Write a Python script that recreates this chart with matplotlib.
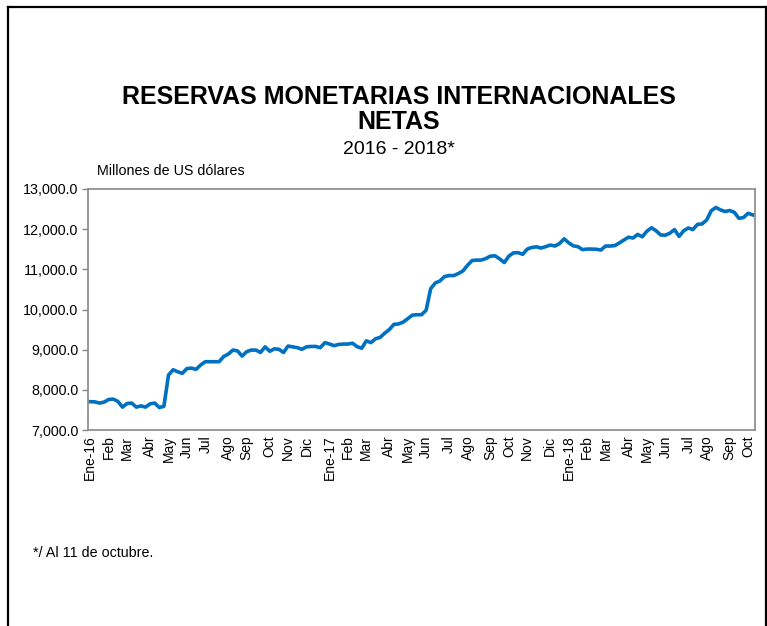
import matplotlib
matplotlib.use('Agg')
import matplotlib.pyplot as plt
from matplotlib.ticker import FuncFormatter
from matplotlib.lines import Line2D
import numpy as np

plt.rcParams['font.family'] = ['Liberation Sans', 'DejaVu Sans']

# Reservas semanales (millones de US$), ene-2016 a oct-2018
reservas = [
    7705, 7700, 7670, 7695, 7760, 7770, 7710, 7570, 7660, 7670,
    7570, 7600, 7570, 7650, 7670, 7560, 7590, 8370, 8500, 8450,
    8410, 8530, 8540, 8510, 8620, 8700, 8700, 8700, 8700, 8830,
    8890, 8990, 8970, 8840, 8950, 8990, 8990, 8930, 9070, 8960,
    9020, 9010, 8930, 9090, 9070, 9050, 9010, 9070, 9080, 9080,
    9050, 9175, 9140, 9100, 9130, 9140, 9140, 9160, 9075, 9035,
    9220, 9175, 9270, 9305, 9410, 9500, 9630, 9640, 9685, 9770,
    9860, 9870, 9870, 9980, 10520, 10660, 10710, 10820, 10845, 10845,
    10895, 10960, 11100, 11220, 11230, 11230, 11270, 11330, 11335, 11260,
    11170, 11330, 11410, 11415, 11375, 11505, 11545, 11560, 11530, 11565,
    11605, 11580, 11640, 11760, 11660, 11585, 11565, 11490, 11505, 11505,
    11500, 11480, 11580, 11580, 11590, 11655, 11730, 11800, 11780, 11870,
    11810, 11950, 12035, 11960, 11855, 11850, 11900, 11990, 11820, 11960,
    12030, 11990, 12120, 12130, 12230, 12460, 12540, 12480, 12440, 12465,
    12420, 12270, 12290, 12395, 12355,
]

# Etiquetas del eje x y la semana en que aparecen
mes_labels = ['Ene-16', 'Feb', 'Mar', 'Abr', 'May', 'Jun', 'Jul', 'Ago', 'Sep', 'Oct', 'Nov', 'Dic',
              'Ene-17', 'Feb', 'Mar', 'Abr', 'May', 'Jun', 'Jul', 'Ago', 'Sep', 'Oct', 'Nov', 'Dic',
              'Ene-18', 'Feb', 'Mar', 'Abr', 'May', 'Jun', 'Jul', 'Ago', 'Sep', 'Oct']
mes_semana = [0, 4, 8, 13, 17, 21, 25, 30, 34, 39, 43, 47,
              52, 56, 60, 65, 69, 73, 78, 82, 87, 91, 95, 100,
              104, 108, 112, 117, 121, 125, 130, 134, 139, 143]

W, H = 767, 626
fig = plt.figure(figsize=(W / 100, H / 100), dpi=100)
ax = fig.add_axes([88 / W, 1 - 430 / H, 667 / W, 241 / H])

x = np.arange(len(reservas))
ax.plot(x, reservas, color='#0070C0', lw=2.6, solid_joinstyle='round')

ax.set_xlim(-0.5, len(reservas) - 0.5)
ax.set_ylim(7000, 13000)
ax.set_yticks(np.arange(7000, 13001, 1000))
ax.yaxis.set_major_formatter(FuncFormatter(lambda v, p: '{:,.1f}'.format(v)))
ax.set_xticks(mes_semana)
ax.set_xticklabels(mes_labels, rotation=90, fontsize=10)
ax.tick_params(axis='x', length=0, pad=4)
ax.tick_params(axis='y', length=4, width=1, color='#888888', labelsize=10.3, pad=3)
for s in ax.spines.values():
    s.set_color('#888888')
    s.set_linewidth(1.2)

fig.text(399 / W, 1 - 97 / H, 'RESERVAS MONETARIAS INTERNACIONALES', ha='center', va='center',
         fontsize=18, fontweight='bold')
fig.text(399 / W, 1 - 122 / H, 'NETAS', ha='center', va='center', fontsize=18, fontweight='bold')
fig.text(399 / W, 1 - 150 / H, '2016 - 2018*', ha='center', va='center', fontsize=14)
fig.text(97 / W, 1 - 171 / H, 'Millones de US dólares', ha='left', va='center', fontsize=10.3)
fig.text(33 / W, 1 - 553 / H, '*/ Al 11 de octubre.', ha='left', va='center', fontsize=10.3)

# marco negro alrededor del gráfico
fig.add_artist(Line2D([8 / W, 8 / W], [0, 1 - 7 / H], color='black', lw=1.6, transform=fig.transFigure))
fig.add_artist(Line2D([8 / W, 1], [1 - 7 / H, 1 - 7 / H], color='black', lw=1.6, transform=fig.transFigure))
fig.add_artist(Line2D([765.5 / W, 765.5 / W], [0, 1 - 7 / H], color='black', lw=1.6, transform=fig.transFigure))

fig.savefig('out.png', dpi=100)
